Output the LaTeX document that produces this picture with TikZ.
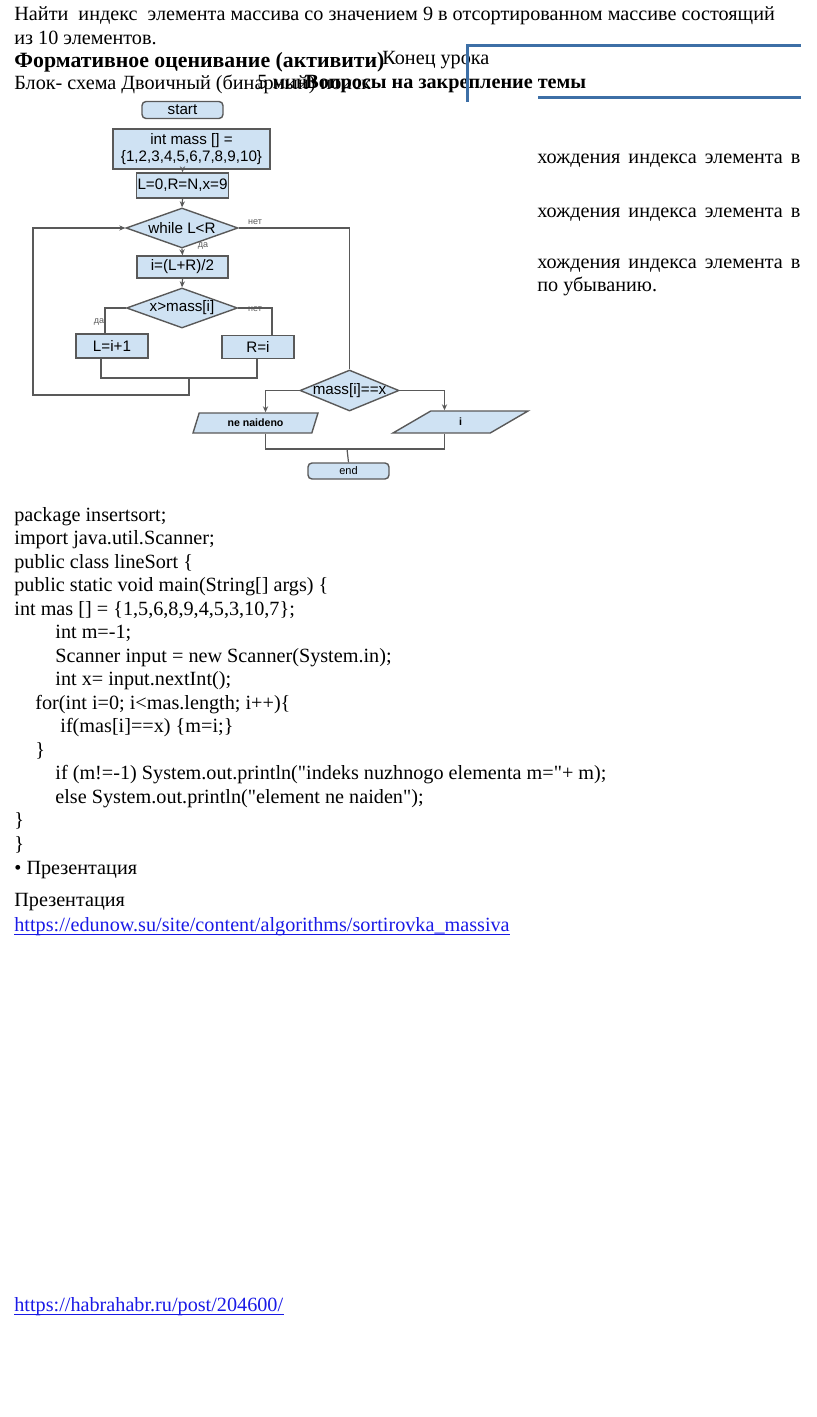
\documentclass[tikz,border=0pt]{standalone}
\usepackage{fontspec}
\setmainfont{Liberation Serif}
\newfontfamily\flowfont{Liberation Sans}
\usetikzlibrary{shapes.geometric,arrows.meta}
\definecolor{boxfill}{HTML}{CFE2F3}
\definecolor{boxline}{HTML}{595959}
\definecolor{headblue}{HTML}{3D6FA6}
\definecolor{linkblue}{HTML}{1A1AE6}

\begin{document}
\begin{tikzpicture}[x=0.5pt, y=-0.5pt, >={Stealth[length=3pt, width=2.6pt]}]
	\tikzstyle{txt} = [anchor=base west, inner sep=0pt, font=\fontsize{10.1}{12}\selectfont]
	\tikzstyle{proc} = [draw=boxline, fill=boxfill, line width=0.7pt, inner sep=0.5pt,
	align=center, font=\flowfont\fontsize{7.6}{8.6}\selectfont]
	\tikzstyle{term} = [proc, rounded corners=2pt]
	\tikzstyle{cond} = [proc, diamond, inner sep=0pt]
	\tikzstyle{condtxt} = [inner sep=0pt, font=\flowfont\fontsize{7.6}{8.6}\selectfont]
	\tikzstyle{io} = [proc, trapezium, trapezium left angle=72, trapezium right angle=108,
	trapezium stretches=true, font=\flowfont\bfseries\fontsize{5.3}{6}\selectfont]
	\tikzstyle{wire} = [draw=boxline, line width=0.6pt]
	\tikzstyle{tag} = [inner sep=0pt, text=boxline, font=\flowfont\fontsize{4.5}{5}\selectfont]
	\tikzstyle{link} = [txt, text=linkblue]

	\useasboundingbox (0,0) rectangle (816,1417);

	% header text
	\node[txt] (t1) at (14,21) {Найти\ \ индекс\ \ элемента массива со значением 9 в отсортированном массиве состоящий};
	\node[txt] (t2) at (14,45) {из 10 элементов.};
	\node[txt, font=\fontsize{10.9}{12}\selectfont\bfseries] (t3) at (14,68) {Формативное оценивание (активити)};
	\node[txt] (t3b) at (382,65) {Конец урока};
	\node[txt] (t4) at (14,90) {Блок- схема Двоичный (бинарный) поиск};
	\node[txt] (t4b) at (257,89) {5 мин\,•};
	\node[txt, font=\fontsize{10.1}{12}\selectfont\bfseries] (t4c) at (305,89) {Вопросы на закрепление темы};
	\draw[headblue, line width=1.5pt] (467,102) -- (467,46) -- (801,46);
	\draw[headblue, line width=1.5pt] (538,98) -- (801,98);

	% right column
	\node[txt] (r1) at (537,164) {\makebox[131.5pt][s]{хождения индекса элемента в}};
	\node[txt] (r2) at (537,218) {\makebox[131.5pt][s]{хождения индекса элемента в}};
	\node[txt] (r3) at (537,269) {\makebox[131.5pt][s]{хождения индекса элемента в}};
	\node[txt] (r4) at (537,292) {по убыванию.};

	% flowchart
	\node[term, minimum width=40.5pt, minimum height=8.5pt, inner sep=0pt] (start) at (182.5,110) {start};
	\node[proc, minimum width=78.5pt, minimum height=20pt] (mass) at (191.5,149) {int mass [] =\\\{1,2,3,4,5,6,7,8,9,10\}};
	\node[proc, minimum width=45.5pt, minimum height=12.5pt] (init) at (182.5,185.5) {L=0,R=N,x=9};
	\node[cond, minimum width=56pt, minimum height=20pt, label={[condtxt]center:while L<R}] (while) at (182,228) {};
	\node[proc, minimum width=45.5pt, minimum height=11pt] (half) at (182.5,267) {i=(L+R)/2};
	\node[cond, minimum width=55.5pt, minimum height=20pt, label={[condtxt]center:x>mass[i]}] (cmp) at (182,308) {};
	\node[proc, minimum width=36pt, minimum height=12pt] (left) at (112,346) {L=i+1};
	\node[proc, minimum width=36pt, minimum height=11.5pt] (right) at (258,347) {R=i};
	\node[cond, minimum width=49.5pt, minimum height=20.5pt, label={[condtxt]center:mass[i]==x}] (eq) at (349.5,390.5) {};
	\node[io, minimum width=62.5pt, minimum height=10pt] (ne) at (255.5,423) {ne naideno};
	\node[io, minimum width=67.5pt, minimum height=11pt] (out) at (460.5,422) {i};
	\node[term, minimum width=40.5pt, minimum height=8pt, inner sep=0pt,
	font=\flowfont\fontsize{5.5}{6}\selectfont] (end) at (348.5,471) {end};

	\coordinate (jl) at (101,378);
	\coordinate (jr) at (257,378);
	\coordinate (jm) at (189,378);
	\coordinate (lb) at (33,395);
	\coordinate (jb) at (347,449);

	\draw[wire, ->] (mass.south -| init.north) -- (init.north);
	\draw[wire, ->] (init.south) -- (while.north);
	\draw[wire, ->] (while.south) -- (half.north);
	\draw[wire, ->] (half.south) -- (cmp.north);
	\draw[wire] (cmp.west) -| ([xshift=-3.5pt]left.north);
	\draw[wire] (cmp.east) -| ([xshift=7pt]right.north);
	\draw[wire] (left.south -| jl) -- (jl) -- (jr) -- (right.south -| jr);
	\draw[wire, ->] (jm) |- (lb) |- (while.west);
	\draw[wire] (while.east) -| (eq.north);
	\draw[wire, ->] (eq.west) -| ([xshift=5pt]ne.north);
	\draw[wire, ->] (eq.east) -| ([xshift=-8pt]out.north);
	\draw[wire] ([xshift=5pt]ne.south) |- (jb) -| ([xshift=-8pt]out.south);
	\draw[wire] (jb) -- (end.north);

	\node[tag] (no1) at (255,222) {нет};
	\node[tag] (yes1) at (203,246) {да};
	\node[tag] (no2) at (255,309) {нет};
	\node[tag] (yes2) at (99,322) {да};

	% program text
	\node[txt] (c1) at (14,521) {package insertsort;};
	\node[txt] (c2) at (14,544.5) {import java.util.Scanner;};
	\node[txt] (c3) at (14,568) {public class lineSort \{};
	\node[txt] (c4) at (14,591.5) {public static void main(String[] args) \{};
	\node[txt] (c5) at (14,615) {int mas [] = \{1,5,6,8,9,4,5,3,10,7\};};
	\node[txt] (c6) at (55,638.5) {int m=-1;};
	\node[txt] (c7) at (55,662) {Scanner input = new Scanner(System.in);};
	\node[txt] (c8) at (55,685.5) {int x= input.nextInt();};
	\node[txt] (c9) at (35,709) {for(int i=0; i<mas.length; i++)\{};
	\node[txt] (c10) at (60,732.5) {if(mas[i]==x) \{m=i;\}};
	\node[txt] (c11) at (35,756) {\}};
	\node[txt] (c12) at (55,779.5) {if (m!=-1) System.out.println(\textquotedbl indeks nuzhnogo elementa m=\textquotedbl + m);};
	\node[txt] (c13) at (55,803) {else System.out.println(\textquotedbl element ne naiden\textquotedbl);};
	\node[txt] (c14) at (14,826.5) {\}};
	\node[txt] (c15) at (14,850) {\}};

	\node[txt] (p1) at (14,874) {• Презентация};
	\node[txt] (p2) at (14,906) {Презентация};
	\node[link] (u1) at (14,931) {https://edunow.su/site/content/algorithms/sortirovka\_massiva};
	\node[link] (u2) at (14,1311) {https://habrahabr.ru/post/204600/};
	\draw[linkblue, line width=0.6pt] ([yshift=-1.6pt]u1.base west) -- ([yshift=-1.6pt]u1.base east);
	\draw[linkblue, line width=0.6pt] ([yshift=-1.6pt]u2.base west) -- ([yshift=-1.6pt]u2.base east);
\end{tikzpicture}
\end{document}
